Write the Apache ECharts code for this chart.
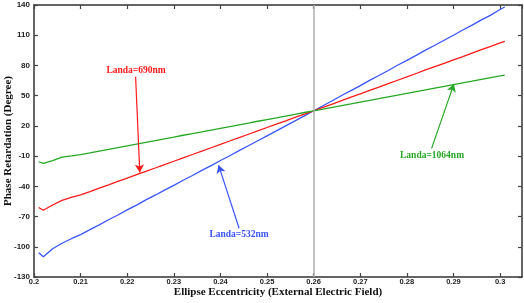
<!DOCTYPE html>
<html><head><meta charset="utf-8">
<script src="https://cdn.jsdelivr.net/npm/echarts@6/dist/echarts.min.js"></script>
<style>html,body{margin:0;padding:0;background:#fff}#c{width:524px;height:303px}</style>
</head><body><div id="c"></div>
<script>
const xs = [0.201,0.202,0.204,0.206,0.208,0.210,0.212,0.214,0.216,0.218,0.220,0.222,0.224,0.226,0.228,0.230,0.232,0.234,0.236,0.238,0.240,0.242,0.244,0.246,0.248,0.250,0.252,0.254,0.256,0.258,0.260,0.262,0.264,0.266,0.268,0.270,0.272,0.274,0.276,0.278,0.280,0.282,0.284,0.286,0.288,0.290,0.292,0.294,0.296,0.298,0.300,0.301];
const blue532 = [-106,-110,-102,-96.5,-92,-88,-83,-78.3,-73.2,-68.5,-63.4,-58.6,-53.5,-48.8,-43.8,-39,-34,-29.2,-24.2,-19.4,-14.4,-9.6,-4.6,0.3,5.2,10.1,15,20,25,30,35,40,45,50.2,55,60,65.2,70,75,80.2,85,90,95.2,100,105,110,115.2,120,125.2,130,135.5,138];
const red690 = [-61,-63.7,-58.5,-54,-51,-48.5,-45.2,-41.8,-38.5,-35.1,-31.8,-28.4,-25.1,-21.8,-18.4,-15.1,-11.7,-8.4,-5,-1.7,1.6,5,8.3,11.7,15,18.4,21.7,25,28.4,31.7,35,38.4,41.7,45,48.5,51.8,55.2,58.5,61.9,65.3,68.6,72,75.5,78.8,82.1,85.5,88.8,92.2,95.6,99,102.4,104];
const green1064 = [-15.6,-17.2,-14.5,-11,-9.8,-8.5,-6.8,-5,-3.3,-1.5,0.2,2,3.7,5.4,7.2,8.9,10.7,12.4,14.1,15.9,17.6,19.3,21.1,22.8,24.6,26.3,28,29.8,31.5,33.3,35,36.6,38.3,40.1,41.8,43.6,45.3,47,48.8,50.5,52.3,54,55.7,57.5,59.2,61,62.7,64.4,66.2,67.9,69.6,70.5];
const seriesNames = ['Landa=532nm','Landa=690nm','Landa=1064nm'];
const colors = ['#3a55ff','#ff1a1a','#26a826'];
// annotation: [labelX,labelY, arrowStartX,arrowStartY, arrowTipX,arrowTipY]
const notes = [
  [0.2440,-87.6, 0.2440,-81.6, 0.2396,-18.9],
  [0.2219,74.6, 0.2218,68.7, 0.2227,-26.2],
  [0.2854,-9, 0.2853,-2.3, 0.2901,61.7]
];
const vline = 0.26;
const xMin = 0.2, xMax = 0.3047, xStep = 0.01;
const yMin = -130, yMax = 140, yStep = 30;

const chart = echarts.init(document.getElementById('c'), null, {renderer:'canvas'});
const axisLine = {show:true, onZero:false, lineStyle:{color:'#333', width:1.5}};
const tick = {show:true, inside:true, length:4, lineStyle:{color:'#444', width:1.2}};
const lab = {fontFamily:'Liberation Sans', fontWeight:'bold', fontSize:8, color:'#222'};
const dataSets = [blue532, red690, green1064];
const series = dataSets.map((d,i)=>{
  const n = notes[i];
  return {
    type:'line', name:seriesNames[i], data:xs.map((x,k)=>[x,d[k]]),
    showSymbol:false, symbol:'none', lineStyle:{color:colors[i], width:1.3}, z:3, animation:false,
    markLine:{silent:true, symbol:['none','arrow'], symbolSize:[7,8], animation:false,
      lineStyle:{color:colors[i], width:1.2, type:'solid'}, label:{show:false},
      data:[[{coord:[n[2],n[3]]},{coord:[n[4],n[5]]}]]},
    markPoint:{silent:true, symbol:'circle', symbolSize:0, animation:false,
      data:[{coord:[n[0],n[1]], label:{show:true, formatter:seriesNames[i], color:colors[i],
        fontFamily:'Liberation Serif', fontWeight:'bold', fontSize:9.5, position:'inside'}}]}
  };
});
series.push({type:'line', data:[], markLine:{silent:true, symbol:'none', animation:false, label:{show:false},
  lineStyle:{color:'#b0b0b0', width:1.5, type:'solid'}, data:[{xAxis:vline}]}, z:1});

chart.setOption({
  animation:false,
  grid:{left:34, right:2, top:5, bottom:26, containLabel:false, outerBoundsMode:'none'},
  xAxis:[{type:'value', min:xMin, max:xMax, interval:xStep, position:'bottom',
    axisLine:axisLine, axisTick:tick, splitLine:{show:false},
    axisLabel:Object.assign({margin:1, showMaxLabel:false, formatter:v=>String(+v.toFixed(2))}, lab, {fontSize:7.5}),
    name:'Ellipse Eccentricity (External Electric Field)', nameLocation:'middle', nameGap:10, nameMoveOverlap:false,
    nameTextStyle:{fontFamily:'Liberation Serif', fontWeight:'bold', fontSize:11, color:'#111', verticalAlign:'top'}},
   {type:'value', min:xMin, max:xMax, interval:xStep, position:'top',
    axisLine:axisLine, axisTick:tick, axisLabel:{show:false}, splitLine:{show:false}}],
  yAxis:[{type:'value', min:yMin, max:yMax, interval:yStep, position:'left',
    axisLine:axisLine, axisTick:tick, splitLine:{show:false},
    axisLabel:Object.assign({margin:4}, lab),
    name:'Phase Retardation (Degree)', nameLocation:'middle', nameGap:20, nameRotate:90, nameMoveOverlap:false,
    nameTextStyle:{fontFamily:'Liberation Serif', fontWeight:'bold', fontSize:11, color:'#111', verticalAlign:'bottom'}},
   {type:'value', min:yMin, max:yMax, interval:yStep, position:'right',
    axisLine:axisLine, axisTick:tick, axisLabel:{show:false}, splitLine:{show:false}}],
  series:series
});
</script></body></html>
